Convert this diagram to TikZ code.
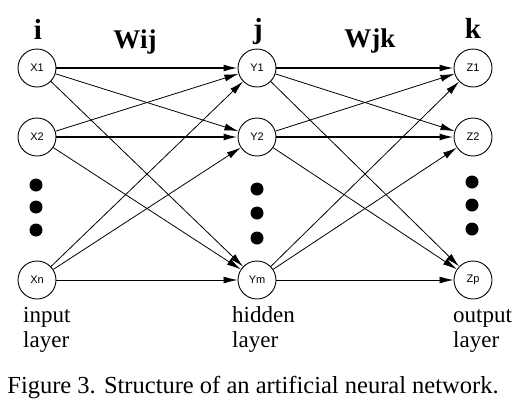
\documentclass[tikz,border=0pt]{standalone}
\usepackage{fontspec}
\setmainfont{Liberation Serif}
\newfontfamily\unitfont{Liberation Sans}
\usetikzlibrary{arrows.meta}
\def\markfont{\fontsize{29}{29}\selectfont\bfseries}
\def\weightfont{\fontsize{27}{27}\selectfont\bfseries}
\def\layerfont{\fontsize{23}{25}\selectfont}
\tikzset{neuron/.style={draw, circle, line width=0.9pt, minimum size=38pt, inner sep=0pt,
		font=\unitfont\fontsize{11}{11}\selectfont},
	link/.style={-{Latex[length=14pt,width=7pt]}},
	bigdot/.style={fill, circle, inner sep=0pt, minimum size=13pt},
	layer/.style={align=left, anchor=north west, inner sep=0pt, font=\layerfont}}

\begin{document}
\begin{tikzpicture}[x=1pt,y=-1pt]
		\useasboundingbox (0,0) rectangle (520,408);
		% units
		\node[neuron] (x1) at (37,68) {X1};
		\node[neuron] (x2) at (37,137) {X2};
		\node[neuron] (xn) at (37,280) {Xn};
		\node[neuron] (y1) at (257,68) {Y1};
		\node[neuron] (y2) at (257,137) {Y2};
		\node[neuron] (ym) at (257,280) {Ym};
		\node[neuron] (z1) at (473,68) {Z1};
		\node[neuron] (z2) at (473,137) {Z2};
		\node[neuron] (zp) at (473,280) {Zp};
		
		\foreach \y [count=\i] in {185,207,230} {
			\node[bigdot] (da\i) at (36,\y) {};
			\node[bigdot] (db\i) at (257,\y+2+2*\i) {};
			\node[bigdot] (dc\i) at (472,\y-4+\i) {};
		}
		
		% weights
		\foreach \a [count=\p] in {x1,x2,xn}
		\foreach \b [count=\q] in {y1,y2,ym}
		\draw[link, line width={(\p==\q && \p<3) ? 1.6 : 0.8}] (\a) -- (\b);
		\foreach \a [count=\p] in {y1,y2,ym}
		\foreach \b [count=\q] in {z1,z2,zp}
		\draw[link, line width={(\p==\q && \p<3) ? 1.6 : 0.8}] (\a) -- (\b);
		
		\node[font=\markfont, anchor=base] (i) at (38,39) {i};
		\node[font=\markfont, anchor=base] (j) at (258,38) {j};
		\node[font=\markfont, anchor=base] (k) at (473,38) {k};
		\node[font=\weightfont, anchor=base] (wij) at (135,48) {Wij};
		\node[font=\weightfont, anchor=base] (wjk) at (370,47) {Wjk};
		
		\node[layer] (inl) at (23,305) {\strut input\\\strut layer};
		\node[layer] (hidl) at (232,305) {\strut hidden\\\strut layer};
		\node[layer] (outl) at (453,305) {\strut output\\\strut layer};
		
		\node[font=\fontsize{24.5}{24.5}\selectfont, anchor=base] (cap) at (253,393) {Figure 3. Structure of an artificial neural network.};
	\end{tikzpicture}
\end{document}
